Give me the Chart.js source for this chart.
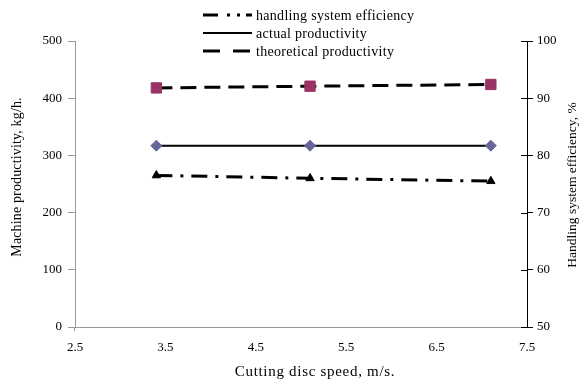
<!DOCTYPE html>
<html><head><meta charset="utf-8">
<script src="https://cdn.jsdelivr.net/npm/chart.js@4/dist/chart.umd.min.js"></script>
<style>html,body{margin:0;padding:0;background:#fff}#wrap{width:580px;height:380px}</style>
</head><body><div id="wrap"><canvas id="c" width="580" height="380"></canvas></div>
<script>
// ---- data ----
const speeds = [3.4, 5.1, 7.1];
const theoreticalProductivity = [418, 421, 424];
const actualProductivity = [317, 317, 317];
const handlingEfficiency = [76.5, 76.0, 75.5];
const xTickValues = [2.5, 3.5, 4.5, 5.5, 6.5, 7.5];
const leftTickValues = [0, 100, 200, 300, 400, 500];
const rightTickValues = [50, 60, 70, 80, 90, 100];
const seriesNames = ['handling system efficiency', 'actual productivity', 'theoretical productivity'];
const xTitle = 'Cutting disc speed, m/s.';
const leftTitle = 'Machine productivity, kg/h.';
const rightTitle = 'Handling system efficiency, %';

const FONT = "'Liberation Serif', 'Times New Roman', serif";
Chart.defaults.font.family = FONT;
Chart.defaults.font.size = 13;
Chart.defaults.color = '#000';

const pts = (ys) => speeds.map((x, i) => ({x: x, y: ys[i]}));
const fixTicks = (vals) => (scale) => { scale.ticks = vals.map(v => ({value: v})); };

const dashEff = [16, 8, 3, 8];
const dashTheo = [16, 8];

function spacedText(ctx, text, x, y, spacing) {
  if ('letterSpacing' in ctx) { ctx.letterSpacing = spacing + 'px'; }
  ctx.fillText(text, x, y);
  if ('letterSpacing' in ctx) { ctx.letterSpacing = '0px'; }
}

const extras = {
  id: 'extras',
  afterDraw(chart) {
    const ctx = chart.ctx;
    const r = chart.scales.y2;
    const l = chart.scales.y;
    ctx.save();
    // inner half of right-axis tick marks
    ctx.strokeStyle = '#000'; ctx.lineWidth = 1;
    r.ticks.forEach((t, i) => {
      const y = Math.round(r.getPixelForTick(i)) + 0.5;
      ctx.beginPath(); ctx.moveTo(r.left - 6, y); ctx.lineTo(r.left, y); ctx.stroke();
    });
    // small extension of left axis below the x axis
    ctx.strokeStyle = '#999';
    const lx = Math.round(l.right) - 0.5;
    ctx.beginPath(); ctx.moveTo(lx, chart.chartArea.bottom); ctx.lineTo(lx, chart.chartArea.bottom + 4); ctx.stroke();
    // legend
    const legendItems = [
      {dash: [15, 9, 3, 7, 3, 6, 10], w: 3},
      {dash: [], w: 2},
      {dash: [17, 13], w: 3}
    ];
    ctx.fillStyle = '#000';
    ctx.textBaseline = 'middle';
    ctx.textAlign = 'left';
    ctx.font = '14px ' + FONT;
    legendItems.forEach((it, i) => {
      const y = 15 + i * 18;
      ctx.setLineDash(it.dash); ctx.lineWidth = it.w; ctx.strokeStyle = '#000';
      ctx.beginPath(); ctx.moveTo(203, y); ctx.lineTo(252, y); ctx.stroke();
      ctx.setLineDash([]);
      spacedText(ctx, seriesNames[i], 256, y + 1, 0.3);
    });
    // axis titles
    ctx.textAlign = 'center';
    ctx.font = '15px ' + FONT;
    spacedText(ctx, xTitle, 315, 372, 0.7);
    ctx.font = '14px ' + FONT;
    ctx.save(); ctx.translate(17, 177); ctx.rotate(-Math.PI / 2); spacedText(ctx, leftTitle, 0, 0, 0.15); ctx.restore();
    ctx.font = '13.5px ' + FONT;
    ctx.save(); ctx.translate(572, 185); ctx.rotate(-Math.PI / 2); spacedText(ctx, rightTitle, 0, 0, 0); ctx.restore();
    ctx.restore();
  }
};

new Chart(document.getElementById('c'), {
  type: 'scatter',
  data: {
    datasets: [
      {
        label: seriesNames[2], data: pts(theoreticalProductivity), yAxisID: 'y', showLine: true,
        borderColor: '#000', borderWidth: 3, borderDash: dashTheo,
        pointStyle: 'rect', pointRadius: 7.3, pointBackgroundColor: '#993366', pointBorderColor: '#993366', pointBorderWidth: 1
      },
      {
        label: seriesNames[1], data: pts(actualProductivity), yAxisID: 'y', showLine: true,
        borderColor: '#000', borderWidth: 2,
        pointStyle: 'rectRot', pointRadius: 5.5, pointBackgroundColor: '#666699', pointBorderColor: '#666699', pointBorderWidth: 1
      },
      {
        label: seriesNames[0], data: pts(handlingEfficiency), yAxisID: 'y2', showLine: true,
        borderColor: '#000', borderWidth: 3, borderDash: dashEff,
        pointStyle: 'triangle', pointRadius: 4.8, pointBackgroundColor: '#000', pointBorderColor: '#000', pointBorderWidth: 1
      }
    ]
  },
  options: {
    responsive: false, animation: false,
    layout: {padding: {top: 41, left: 0, right: 0, bottom: 0}},
    plugins: {legend: {display: false}, tooltip: {enabled: false}},
    scales: {
      x: {
        type: 'linear', min: 2.5, max: 7.5,
        afterBuildTicks: fixTicks(xTickValues),
        afterFit: (s) => { s.height = 53; },
        grid: {display: false, drawTicks: true, tickLength: 5},
        border: {display: true, color: '#999', width: 1},
        ticks: {padding: 8, maxRotation: 0, callback: (v) => v.toFixed(1), color: '#000'}
      },
      y: {
        position: 'left', min: 0, max: 500,
        afterBuildTicks: fixTicks(leftTickValues),
        afterFit: (s) => { s.width = 75; },
        grid: {drawOnChartArea: false, drawTicks: true, tickLength: 7, color: '#999'},
        border: {display: true, color: '#999', width: 1},
        ticks: {padding: 6, color: '#000'}
      },
      y2: {
        position: 'right', min: 50, max: 100,
        afterBuildTicks: fixTicks(rightTickValues),
        afterFit: (s) => { s.width = 53; },
        grid: {drawOnChartArea: false, drawTicks: true, tickLength: 6, color: '#000'},
        border: {display: true, color: '#000', width: 1},
        ticks: {padding: 4, color: '#000'}
      }
    }
  },
  plugins: [extras]
});
</script></body></html>
